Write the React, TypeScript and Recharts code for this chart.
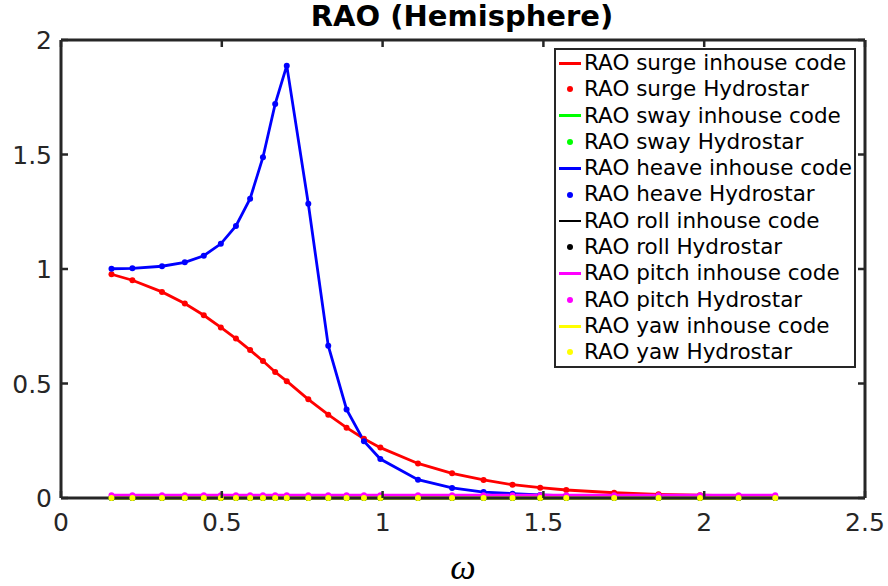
import { LineChart, Line, XAxis, YAxis, Legend } from "recharts";

// wave frequency (rad/s)
const omega = [
  0.157, 0.222, 0.314, 0.385, 0.444, 0.497, 0.544, 0.588, 0.628, 0.666, 0.702,
  0.769, 0.831, 0.888, 0.942, 0.993, 1.11, 1.216, 1.314, 1.404, 1.49, 1.571,
  1.72, 1.858, 1.987, 2.107, 2.221,
];

const surge = [
  0.977, 0.951, 0.9, 0.849, 0.798, 0.745, 0.696, 0.646, 0.598, 0.55, 0.51,
  0.431, 0.364, 0.307, 0.259, 0.22, 0.151, 0.108, 0.079, 0.058, 0.045, 0.035,
  0.023, 0.016, 0.012, 0.009, 0.006,
];
const sway = [
  0, 0, 0, 0, 0, 0, 0, 0, 0, 0, 0, 0, 0, 0, 0, 0, 0, 0, 0, 0, 0, 0, 0, 0, 0, 0, 0,
];
const heave = [
  1.001, 1.003, 1.012, 1.029, 1.058, 1.11, 1.188, 1.307, 1.488, 1.721, 1.888,
  1.285, 0.665, 0.387, 0.248, 0.17, 0.08, 0.044, 0.026, 0.019, 0.013, 0.009,
  0.005, 0.003, 0.002, 0.001, 0.001,
];
const roll = [
  0, 0, 0, 0, 0, 0, 0, 0, 0, 0, 0, 0, 0, 0, 0, 0, 0, 0, 0, 0, 0, 0, 0, 0, 0, 0, 0,
];
const pitch = [
  0.012, 0.012, 0.012, 0.012, 0.012, 0.012, 0.012, 0.012, 0.012, 0.012, 0.012,
  0.012, 0.012, 0.012, 0.012, 0.012, 0.012, 0.012, 0.012, 0.012, 0.012, 0.012,
  0.012, 0.012, 0.012, 0.012, 0.012,
];
const yaw = [
  0, 0, 0, 0, 0, 0, 0, 0, 0, 0, 0, 0, 0, 0, 0, 0, 0, 0, 0, 0, 0, 0, 0, 0, 0, 0, 0,
];

const modes = ["surge", "sway", "heave", "roll", "pitch", "yaw"];
const COLORS = ["#ff0000", "#00ff00", "#0000ff", "#000000", "#ff00ff", "#ffff00"];

const xTicks = [0, 0.5, 1, 1.5, 2, 2.5];
const yTicks = [0, 0.5, 1, 1.5, 2];

const data = omega.map((w, i) => ({
  w,
  surge: surge[i],
  sway: sway[i],
  heave: heave[i],
  roll: roll[i],
  pitch: pitch[i],
  yaw: yaw[i],
}));

const FONT = "'DejaVu Sans', sans-serif";
const AXIS = "#262626";
const TICK_LEN = 7;
const CHART_W = 888;
const RIGHT_W = 23;
const PLOT_RIGHT = CHART_W - RIGHT_W;

// matlab style ticks: short marks pointing into the box (tickSize=0 so x/y sit on the axis line)
const BottomTick = (props: any) => {
  const { x, y, payload } = props;
  return (
    <g>
      <line x1={x} x2={x} y1={y} y2={y - TICK_LEN} stroke={AXIS} strokeWidth={2.5} />
      <text x={x} y={y + 33} textAnchor="middle" fill={AXIS} fontSize={25} fontFamily={FONT}>
        {payload.value}
      </text>
    </g>
  );
};
// left ticks also mirror the mark onto the right side of the box
const LeftTick = (props: any) => {
  const { x, y, payload } = props;
  return (
    <g>
      <line x1={x} x2={x + TICK_LEN} y1={y} y2={y} stroke={AXIS} strokeWidth={2.5} />
      <line x1={PLOT_RIGHT} x2={PLOT_RIGHT - TICK_LEN} y1={y} y2={y} stroke={AXIS} strokeWidth={2.5} />
      <text x={x - 9} y={y + 9} textAnchor="end" fill={AXIS} fontSize={25} fontFamily={FONT}>
        {payload.value}
      </text>
    </g>
  );
};
const TopTick = (props: any) => {
  const { x, y } = props;
  return <line x1={x} x2={x} y1={y} y2={y + TICK_LEN} stroke={AXIS} strokeWidth={2.5} />;
};

function LegendBox() {
  const rows: { label: string; color: string; line: boolean }[] = [];
  modes.forEach((m, i) => {
    rows.push({ label: `RAO ${m} inhouse code`, color: COLORS[i], line: true });
    rows.push({ label: `RAO ${m} Hydrostar`, color: COLORS[i], line: false });
  });
  return (
    <div
      style={{
        border: `2.5px solid ${AXIS}`,
        background: "#fff",
        fontFamily: FONT,
        fontSize: 21.5,
        color: "#000",
        boxSizing: "border-box",
        width: 302,
      }}
    >
      {rows.map((r, idx) => (
        <div
          key={idx}
          style={{ display: "flex", alignItems: "center", height: 26.3, lineHeight: "26.3px", whiteSpace: "nowrap" }}
        >
          <span style={{ width: 24, marginLeft: 2, marginRight: 2, display: "flex", justifyContent: "center" }}>
            {r.line ? (
              <span style={{ width: 22, height: 2.8, background: r.color, display: "block" }} />
            ) : (
              <span style={{ width: 6, height: 6, borderRadius: 3, background: r.color, display: "block" }} />
            )}
          </span>
          {r.label}
        </div>
      ))}
    </div>
  );
}

export default function App() {
  return (
    <div style={{ position: "absolute", left: 0, top: 0, width: 888, height: 586, background: "#fff" }}>
      <div
        style={{
          position: "absolute",
          left: 0,
          width: 924,
          top: 2,
          textAlign: "center",
          fontFamily: FONT,
          fontWeight: "bold",
          fontSize: 29,
          lineHeight: "29px",
          color: "#000",
        }}
      >
        RAO (Hemisphere)
      </div>
      <LineChart width={CHART_W} height={586} data={data} margin={{ top: 39, right: 0, bottom: 0, left: 0 }}>
        <XAxis
          dataKey="w"
          type="number"
          domain={[0, 2.5]}
          ticks={xTicks}
          height={88}
          tickSize={0}
          tickMargin={0}
          axisLine={{ stroke: AXIS, strokeWidth: 3 }}
          tickLine={false}
          tick={BottomTick}
          label={{
            value: "ω",
            position: "insideBottom",
            offset: 7,
            style: { fontFamily: "'Liberation Serif', serif", fontStyle: "italic", fontSize: 36, fill: "#000" },
          }}
        />
        <XAxis
          xAxisId="top"
          orientation="top"
          dataKey="w"
          type="number"
          domain={[0, 2.5]}
          ticks={xTicks}
          height={1}
          tickSize={0}
          tickMargin={0}
          tick={TopTick}
          tickLine={false}
          axisLine={{ stroke: AXIS, strokeWidth: 3 }}
        />
        <YAxis
          type="number"
          domain={[0, 2]}
          ticks={yTicks}
          width={61}
          tickSize={0}
          tickMargin={0}
          axisLine={{ stroke: AXIS, strokeWidth: 3 }}
          tickLine={false}
          tick={LeftTick}
        />
        <YAxis
          yAxisId="right"
          orientation="right"
          type="number"
          domain={[0, 2]}
          width={RIGHT_W}
          tick={false}
          tickLine={false}
          axisLine={{ stroke: AXIS, strokeWidth: 3 }}
        />
        <Legend
          layout="vertical"
          align="center"
          verticalAlign="middle"
          content={() => <LegendBox />}
          wrapperStyle={{ left: 554, top: 48, width: 302 }}
        />
        {modes.flatMap((m, i) => [
          <Line
            key={`${m}-line`}
            dataKey={m}
            stroke={COLORS[i]}
            strokeWidth={2.8}
            dot={false}
            activeDot={false}
            isAnimationActive={false}
          />,
          <Line
            key={`${m}-dots`}
            dataKey={m}
            stroke="none"
            strokeWidth={0}
            dot={{ r: 3, fill: COLORS[i], stroke: COLORS[i], strokeWidth: 0 }}
            activeDot={false}
            isAnimationActive={false}
          />,
        ])}
      </LineChart>
    </div>
  );
}
